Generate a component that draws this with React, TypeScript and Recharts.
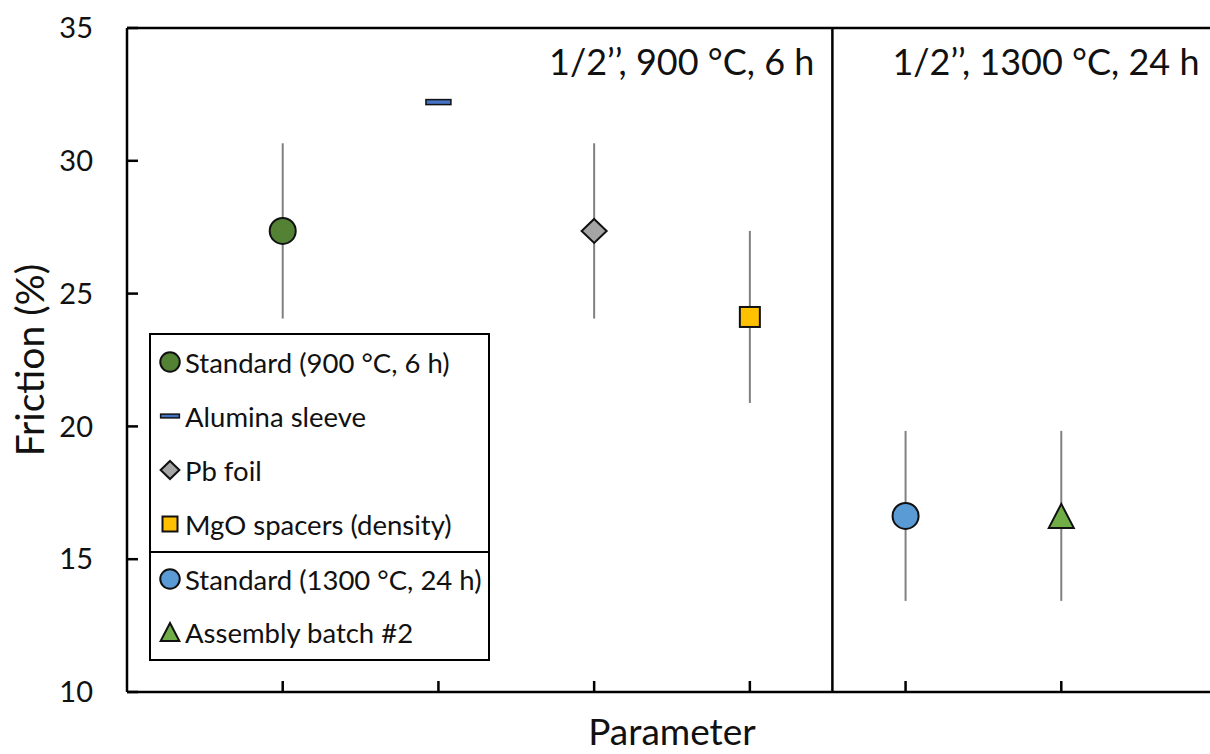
import { ComposedChart, ErrorBar, Legend, ReferenceLine, Scatter, XAxis, YAxis } from "recharts";

const FONT = "Lato, 'Open Sans', sans-serif";

const categories = [1, 2, 3, 4, 5, 6];
const seriesNames = [
  "Standard (900 °C, 6 h)",
  "Alumina sleeve",
  "Pb foil",
  "MgO spacers (density)",
  "Standard (1300 °C, 24 h)",
  "Assembly batch #2",
];
const frictionValues = [27.36, 32.21, 27.36, 24.12, 16.63, 16.63];
const frictionErrors = [3.3, 0, 3.3, 3.24, 3.2, 3.2];
const yTicks = [10, 15, 20, 25, 30, 35];
const xTicks = [1, 2, 3, 4, 5, 6];
const panelLabels = ["1/2’’, 900 °C, 6 h", "1/2’’, 1300 °C, 24 h"];
const panelDivider = 4.53;

type MarkerKind = "circle" | "dash" | "diamond" | "square" | "triangle";
const markerKinds: MarkerKind[] = ["circle", "dash", "diamond", "square", "circle", "triangle"];
const markerColors = ["#548235", "#4472C4", "#A5A5A5", "#FFC000", "#5B9BD5", "#70AD47"];

const TICK_LEN = 11;
const Y_LABEL_GAP = 34;

function Marker({ kind, fill, cx, cy, s = 1 }: { kind: MarkerKind; fill: string; cx: number; cy: number; s?: number }) {
  const stroke = { fill, stroke: "#111", strokeWidth: 2 };
  if (kind === "circle") return <circle cx={cx} cy={cy} r={13 * s} {...stroke} />;
  if (kind === "dash") return <rect x={cx - 12.5 * s} y={cy - 2.5 * s} width={25 * s} height={5 * s} {...stroke} strokeWidth={1.5} />;
  if (kind === "diamond")
    return <polygon points={`${cx},${cy - 12 * s} ${cx + 12.5 * s},${cy} ${cx},${cy + 12 * s} ${cx - 12.5 * s},${cy}`} {...stroke} />;
  if (kind === "square") return <rect x={cx - 10 * s} y={cy - 10 * s} width={20 * s} height={20 * s} {...stroke} />;
  return <polygon points={`${cx},${cy - 12 * s} ${cx + 12.5 * s},${cy + 12 * s} ${cx - 12.5 * s},${cy + 12 * s}`} {...stroke} />;
}

// ticks point into the plot, so draw them with the label
function YTick({ x, y, payload }: any) {
  const axisX = x + Y_LABEL_GAP;
  return (
    <g>
      <line x1={axisX} x2={axisX + TICK_LEN} y1={y} y2={y} stroke="#000" strokeWidth={2.5} />
      <text x={x} y={y} dy="0.355em" textAnchor="end" fontFamily={FONT} fontSize={29} fill="#111">
        {payload.value}
      </text>
    </g>
  );
}

function XTick({ x, y }: any) {
  return <line x1={x} x2={x} y1={y} y2={y - TICK_LEN} stroke="#000" strokeWidth={2.5} />;
}

function LegendBox() {
  return (
    <div
      style={{
        width: 341,
        height: 328,
        boxSizing: "border-box",
        border: "2px solid #000",
        background: "#fff",
        fontFamily: FONT,
        fontSize: 27.5,
        color: "#111",
      }}
    >
      {seriesNames.map((name, i) => (
        <div
          key={name}
          style={{
            height: 54,
            boxSizing: "border-box",
            display: "flex",
            alignItems: "center",
            borderTop: i === 4 ? "2px solid #000" : undefined,
          }}
        >
          <svg width={22} height={22} style={{ marginLeft: 8, marginRight: 4, flex: "none" }}>
            <Marker kind={markerKinds[i]} fill={markerColors[i]} cx={11} cy={11} s={0.75} />
          </svg>
          <span style={{ whiteSpace: "nowrap" }}>{name}</span>
        </div>
      ))}
    </div>
  );
}

export default function App() {
  return (
    <div style={{ position: "fixed", top: 0, left: 0, width: 1210, height: 754, overflow: "hidden", background: "#fff" }}>
      <ComposedChart width={1230} height={754} margin={{ top: 28, right: 13, bottom: 0, left: 0 }}>
        <XAxis
          type="number"
          dataKey="x"
          domain={[0, 7]}
          ticks={xTicks}
          tick={<XTick />}
          tickSize={0}
          tickMargin={0}
          tickLine={false}
          axisLine={{ stroke: "#000", strokeWidth: 2.5 }}
          height={62}
          allowDataOverflow
          label={{
            content: ({ viewBox }: any) => (
              <text x={viewBox.x + viewBox.width / 2} y={745} textAnchor="middle" fontFamily={FONT} fontSize={37} fill="#111">
                Parameter
              </text>
            ),
          }}
        />
        <YAxis
          type="number"
          domain={[10, 35]}
          ticks={yTicks}
          width={127}
          tickSize={0}
          tickMargin={Y_LABEL_GAP}
          tick={<YTick />}
          tickLine={false}
          axisLine={{ stroke: "#000", strokeWidth: 2.5 }}
          allowDataOverflow
          label={{
            content: ({ viewBox }: any) => (
              <text
                x={29}
                y={viewBox.y + viewBox.height / 2}
                transform={`rotate(-90 29 ${viewBox.y + viewBox.height / 2})`}
                textAnchor="middle"
                dominantBaseline="central"
                fontFamily={FONT}
                fontSize={39}
                fill="#111"
              >
                Friction (%)
              </text>
            ),
          }}
        />
        <ReferenceLine y={35} stroke="#000" strokeWidth={2.5} />
        <ReferenceLine
          x={panelDivider}
          stroke="#000"
          strokeWidth={2.5}
          label={{
            content: ({ viewBox }: any) => (
              <g fontFamily={FONT} fontSize={36} fill="#111">
                <text x={viewBox.x - 18} y={viewBox.y + 47} textAnchor="end">
                  {panelLabels[0]}
                </text>
                <text x={viewBox.x + 60} y={viewBox.y + 47} textAnchor="start">
                  {panelLabels[1]}
                </text>
              </g>
            ),
          }}
        />
        {categories.map((cat, i) => (
          <Scatter
            key={seriesNames[i]}
            name={seriesNames[i]}
            data={[{ x: cat, y: frictionValues[i], err: frictionErrors[i] }]}
            dataKey="y"
            isAnimationActive={false}
            shape={(p: any) => <Marker kind={markerKinds[i]} fill={markerColors[i]} cx={p.cx} cy={p.cy} />}
          >
            {frictionErrors[i] > 0 && (
              <ErrorBar dataKey="err" direction="y" width={0} stroke="#808080" strokeWidth={2} isAnimationActive={false} />
            )}
          </Scatter>
        ))}
        <Legend
          layout="vertical"
          align="center"
          verticalAlign="middle"
          wrapperStyle={{ left: 149, top: 333, width: 341, height: 328 }}
          content={() => <LegendBox />}
        />
      </ComposedChart>
    </div>
  );
}
